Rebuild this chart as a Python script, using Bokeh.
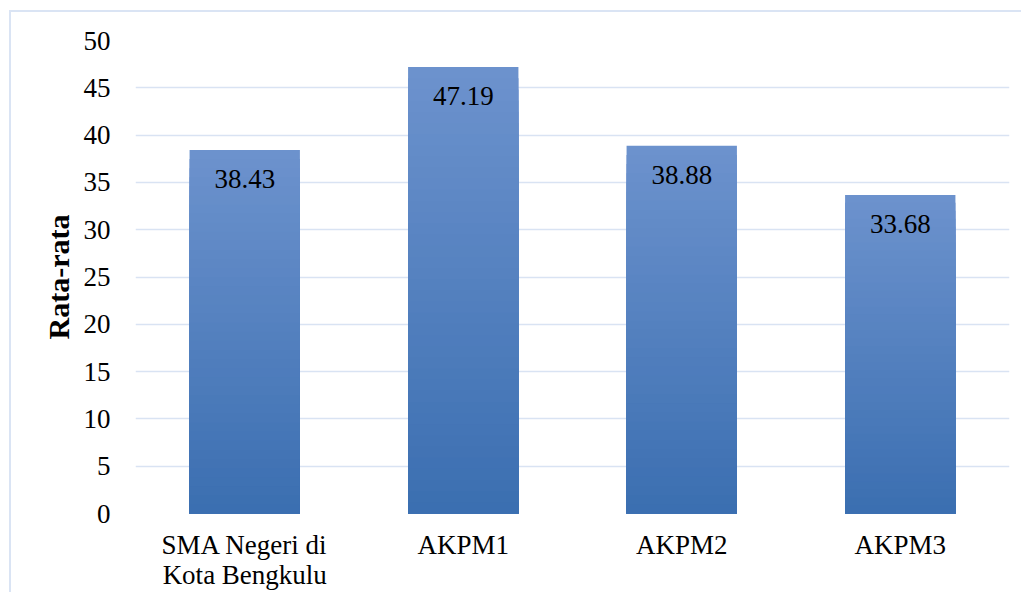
from bokeh.plotting import figure
from bokeh.models import ColumnDataSource, FactorRange, Range1d, SingleIntervalTicker
from bokeh.core.properties import value
from bokeh.embed import file_html
from bokeh.resources import INLINE

categories = ["SMA Negeri di\nKota Bengkulu", "AKPM1", "AKPM2", "AKPM3"]
values = [38.43, 47.19, 38.88, 33.68]
value_labels = ["38.43", "47.19", "38.88", "33.68"]
y_title = "Rata-rata"

FONT = "Liberation Serif"
GRID = "#d9e3f3"
BORDER = "#dae4f4"
TOP_RGB = (108, 146, 205)
BOT_RGB = (58, 110, 176)

p = figure(
    x_range=FactorRange(*categories),
    y_range=Range1d(0, 50),
    width=1021, height=592,
    output_backend="svg", toolbar_location=None,
    min_border_left=135, min_border_right=12, min_border_top=40, min_border_bottom=79,
)
p.styles = {
    "background": (
        f"linear-gradient({BORDER},{BORDER}) 9px 10px / 2px 100% no-repeat, "
        f"linear-gradient({BORDER},{BORDER}) 9px 10px / 100% 2px no-repeat, white"
    )
}
p.outline_line_color = None
p.background_fill_color = "white"
p.border_fill_color = None

# gradient-filled bars (per-bar vertical gradient, drawn as nested bands)
N = 40
xs, tops, colors = [], [], []
for i in range(N):
    frac = (N - i) / N
    c = tuple(int(round(BOT_RGB[k] + (TOP_RGB[k] - BOT_RGB[k]) * frac)) for k in range(3))
    col = "#%02x%02x%02x" % c
    for cat, v in zip(categories, values):
        xs.append(cat)
        tops.append(v * frac)
        colors.append(col)
p.vbar(x=xs, top=tops, bottom=0, width=0.505, fill_color=colors, line_color=None)

src = ColumnDataSource(dict(x=categories, y=values, t=value_labels))
p.text(x="x", y="y", text="t", source=src, text_align="center", text_baseline="middle",
       y_offset=29, text_font=value(FONT), text_font_size="27px", text_color="#000000")

p.xgrid.grid_line_color = None
p.ygrid.grid_line_color = GRID
p.ygrid.grid_line_width = 1.5
p.yaxis.ticker = SingleIntervalTicker(interval=5)

for ax in (p.xaxis[0], p.yaxis[0]):
    ax.axis_line_color = None
    ax.major_tick_line_color = None
    ax.minor_tick_line_color = None
    ax.major_tick_in = 0
    ax.major_tick_out = 0
    ax.minor_tick_in = 0
    ax.minor_tick_out = 0
    ax.major_label_text_font = FONT
    ax.major_label_text_font_size = "27px"
    ax.major_label_text_color = "#000000"

p.xaxis.major_label_standoff = 16
p.xaxis.major_label_text_line_height = 1.0
p.yaxis.major_label_standoff = 25
p.yaxis.axis_label = y_title
p.yaxis.axis_label_text_font = FONT
p.yaxis.axis_label_text_font_style = "bold"
p.yaxis.axis_label_text_font_size = "30px"
p.yaxis.axis_label_text_color = "#000000"
p.yaxis.axis_label_standoff = 6

open("out.html", "w").write(file_html(p, INLINE))
